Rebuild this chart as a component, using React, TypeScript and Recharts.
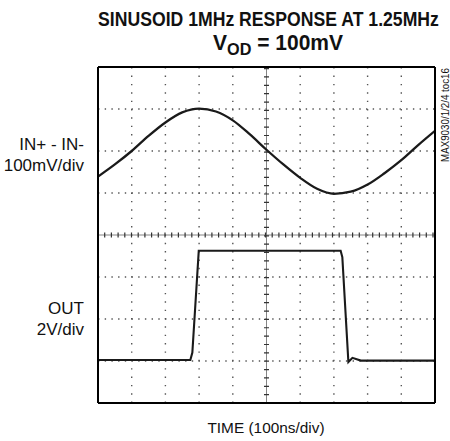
import { LineChart, Line, XAxis, YAxis, ReferenceLine } from "recharts";

// scope screen: 10 divisions across, 8 down
const timeDiv = [0, 0.5, 1, 1.5, 2, 2.5, 3, 3.5, 4, 4.5, 5, 5.5, 6, 6.5, 7, 7.5, 8, 8.5, 9, 9.5, 10];
const inputMv = [-61, -32, 0, 36, 68, 92, 101, 94, 73, 40, 3, -32, -64, -90, -102, -97, -80, -53, -22, 14, 48];

const outTime = [0, 2.74, 2.8, 2.99, 7.2, 7.25, 7.43, 7.55, 7.8, 10];
const outVolts = [0.05, 0.05, 0.4, 5.25, 5.25, 4.95, -0.05, 0.15, 0.02, 0.02];

const gridX = [1, 2, 3, 4, 6, 7, 8, 9];
const gridInMv = [-500, -400, -300, -100, 0, 100];
const centerX = 5;
const centerMv = -200;

const xMinor = Array.from({ length: 51 }, (_, i) => i / 5);
const inMinor = Array.from({ length: 41 }, (_, i) => -600 + i * 20);
const outMinor = Array.from({ length: 41 }, (_, i) => Math.round((-2 + i * 0.4) * 10) / 10);

const inputData = timeDiv.map((t, i) => ({ t, mv: inputMv[i] }));
const outData = outTime.map((t, i) => ({ t, v: outVolts[i] }));

const FONT = '"Liberation Sans", Arial, sans-serif';
const INK = "#1a1a1a";

const border = { stroke: "#000", strokeWidth: 2 };
const minorTick = { stroke: "#000", strokeWidth: 1 };

export default function App() {
  return (
    <div style={{ position: "absolute", left: 0, top: 0, width: 450, height: 441, background: "#fff" }}>
      <LineChart width={450} height={441} margin={{ top: 67, right: 15, bottom: 38, left: 98 }}>
        {/* dotted divisions */}
        {gridX.map((x) => (
          <ReferenceLine key={"gx" + x} xAxisId="b" yAxisId="in" x={x} stroke="#555" strokeWidth={1.4} strokeDasharray="1.4 6.96" />
        ))}
        {gridInMv.map((y) => (
          <ReferenceLine key={"gy" + y} xAxisId="b" yAxisId="in" y={y} stroke="#555" strokeWidth={1.4} strokeDasharray="1.4 5.3" />
        ))}

        {/* centre graticule with ticks */}
        <ReferenceLine xAxisId="b" yAxisId="in" y={centerMv} stroke="#666" strokeWidth={0.8} />
        <ReferenceLine xAxisId="b" yAxisId="in" y={centerMv} stroke="#333" strokeWidth={5} strokeDasharray="1.2 5.5" strokeDashoffset={0.6} />
        <ReferenceLine xAxisId="b" yAxisId="in" x={centerX} stroke="#666" strokeWidth={0.8} />
        <ReferenceLine xAxisId="b" yAxisId="in" x={centerX} stroke="#333" strokeWidth={5} strokeDasharray="1.2 7.16" strokeDashoffset={0.6} />

        <XAxis xAxisId="b" dataKey="t" type="number" domain={[0, 10]} ticks={xMinor} interval={0} tick={false} tickSize={3} mirror height={1} axisLine={border} tickLine={minorTick} allowDataOverflow />
        <XAxis xAxisId="t" dataKey="t" type="number" orientation="top" domain={[0, 10]} ticks={xMinor} interval={0} tick={false} tickSize={3} mirror height={1} axisLine={border} tickLine={minorTick} allowDataOverflow />
        <YAxis yAxisId="in" type="number" domain={[-600, 200]} ticks={inMinor} interval={0} tick={false} tickSize={3} mirror width={1} axisLine={border} tickLine={minorTick} allowDataOverflow />
        <YAxis yAxisId="out" type="number" orientation="right" domain={[-2, 14]} ticks={outMinor} interval={0} tick={false} tickSize={3} mirror width={1} axisLine={border} tickLine={minorTick} allowDataOverflow />

        <Line data={inputData} dataKey="mv" xAxisId="b" yAxisId="in" type="monotone" stroke={INK} strokeWidth={2.3} dot={false} isAnimationActive={false} />
        <Line data={outData} dataKey="v" xAxisId="b" yAxisId="out" type="linear" stroke={INK} strokeWidth={2.1} dot={false} isAnimationActive={false} />
      </LineChart>

      <svg width={450} height={441} style={{ position: "absolute", left: 0, top: 0, pointerEvents: "none" }} fontFamily={FONT} fill="#111">
        <text transform="translate(268.5,26) scale(0.84,1)" textAnchor="middle" fontSize={21} fontWeight="bold">
          SINUSOID 1MHz RESPONSE AT 1.25MHz
        </text>
        <text x={213} y={50} fontSize={22} fontWeight="bold" textLength={130} lengthAdjust="spacingAndGlyphs">
          V<tspan fontSize={17} dy={5}>OD</tspan>
          <tspan dy={-5}> = 100mV</tspan>
        </text>

        <text x={84} y={150} textAnchor="end" fontSize={17}>IN+ - IN-</text>
        <text x={84} y={171} textAnchor="end" fontSize={17}>100mV/div</text>
        <text x={84} y={314} textAnchor="end" fontSize={17}>OUT</text>
        <text x={84} y={335} textAnchor="end" fontSize={17}>2V/div</text>

        <text x={266} y={433} textAnchor="middle" fontSize={15.4}>TIME (100ns/div)</text>

        <text transform="translate(449,115) rotate(-90)" textAnchor="middle" fontSize={10} textLength={94} lengthAdjust="spacingAndGlyphs">
          MAX9030/1/2/4 toc16
        </text>
      </svg>
    </div>
  );
}
